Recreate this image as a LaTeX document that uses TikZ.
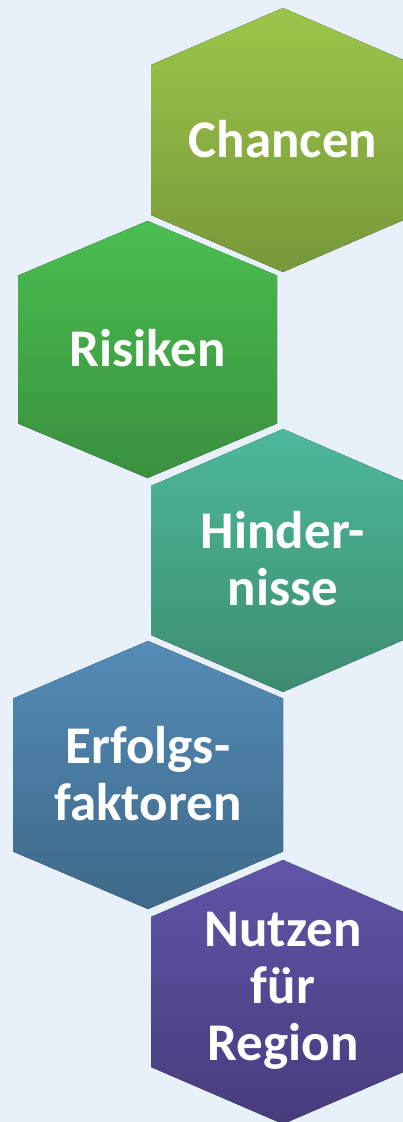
\documentclass[tikz,border=0pt]{standalone}
\usepackage{fontspec}
\setmainfont{Carlito}
\definecolor{bgc}{RGB}{232,240,249}
\definecolor{aT}{RGB}{157,197,74}\definecolor{aB}{RGB}{120,152,58}
\definecolor{bT}{RGB}{74,190,80}\definecolor{bB}{RGB}{58,144,62}
\definecolor{cT}{RGB}{77,184,155}\definecolor{cB}{RGB}{61,140,114}
\definecolor{dT}{RGB}{84,140,183}\definecolor{dB}{RGB}{62,104,136}
\definecolor{eT}{RGB}{96,85,168}\definecolor{eB}{RGB}{70,60,124}
% cx, top, bottom, halfwidth, drop, topcolor, bottomcolor
\newcommand{\hexa}[7]{%
  \fill[top color=#6,bottom color=#7]
    (#1,#2) -- (#1+#4,#2+#5) -- (#1+#4,#3-#5) -- (#1,#3)
    -- (#1-#4,#3-#5) -- (#1-#4,#2+#5) -- cycle;}
\tikzset{lbl/.style={text=white,font=\fontsize{53}{57}\selectfont\bfseries,align=center,inner sep=0pt}}
\begin{document}
\begin{tikzpicture}[x=1pt,y=-1pt]
\fill[bgc] (0,0) rectangle (403,1122);
\useasboundingbox (0,0) rectangle (403,1122);
\begin{scope}
\clip (0,0) rectangle (403,1122);
\hexa{283}{8}{272}{132}{57}{aT}{aB}
\hexa{147.5}{221}{478}{129.5}{54.5}{bT}{bB}
\hexa{283}{429}{692}{132}{57}{cT}{cB}
\hexa{148}{641}{909}{135}{57.5}{dT}{dB}
\hexa{283}{860}{1124}{132}{57}{eT}{eB}
\end{scope}
\node[lbl] (chancen) at (283,139) {Chancen};
\node[lbl] (risiken) at (147.5,348) {Risiken};
\node[lbl] (hinder) at (283,559) {Hinder-\\nisse};
\node[lbl] (erfolg) at (148,774) {Erfolgs-\\faktoren};
\node[lbl] (nutzen) at (283,991) {Nutzen\\für\\Region};
\end{tikzpicture}
\end{document}
